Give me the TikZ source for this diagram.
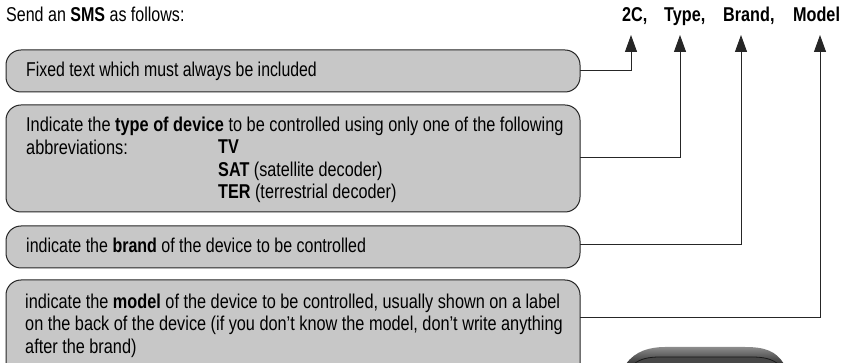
\documentclass[tikz,border=0pt]{standalone}
\usepackage{fontspec}
\usetikzlibrary{arrows.meta}
\setmainfont[FakeStretch=0.81]{Liberation Sans}
\definecolor{boxgray}{gray}{0.78}
\definecolor{linegray}{gray}{0.15}
\tikzset{
  infobox/.style={draw=linegray,fill=boxgray,line width=1pt,rounded corners=15pt},
  boxtext/.style={anchor=base west,inner sep=0pt,font=\fontsize{20}{22.5}\selectfont,align=left},
  token/.style={anchor=base west,inner sep=0pt,font=\fontsize{20}{22}\selectfont\bfseries},
  leader/.style={draw=linegray,line width=1pt,-{Triangle[length=17pt,width=12pt]}},
}
\begin{document}
\begin{tikzpicture}[x=1pt,y=-1pt]
\useasboundingbox (0,0) rectangle (849,363);
\clip (0,0) rectangle (849,363);
\node[boxtext,xscale=0.99] (title) at (6,22) {Send an \textbf{SMS} as follows:};
\node[token] (t1) at (622,22) {2C,};
\node[token] (t2) at (664,22) {Type,};
\node[token] (t3) at (723,22) {Brand,};
\node[token] (t4) at (793,22) {Model};
\coordinate (a1) at (631,35);
\coordinate (a2) at (680,35);
\coordinate (a3) at (741,35);
\coordinate (a4) at (820,35);
\path[infobox] (6,50) rectangle (580,92);
\coordinate (b1) at (580,71);
\path[infobox] (6,105) rectangle (580,212);
\coordinate (b2) at (580,158);
\path[infobox] (6,226) rectangle (580,268);
\coordinate (b3) at (580,245);
\path[infobox] (6,280) rectangle (580,380);
\coordinate (b4) at (580,318);
\node[boxtext,xscale=0.978] (x1) at (26,77) {Fixed text which must always be included};
\node[boxtext,xscale=1.008] (x2) at (26,154.5) {Indicate the \textbf{type of device} to be controlled using only one of the following\\abbreviations:};
\node[boxtext] (x2b) at (218,199) {\textbf{TV}\\\textbf{SAT} (satellite decoder)\\\textbf{TER} (terrestrial decoder)};
\node[boxtext,xscale=0.988] (x3) at (26,253) {indicate the \textbf{brand} of the device to be controlled};
\node[boxtext,xscale=1.005] (x4) at (25,353) {indicate the \textbf{model} of the device to be controlled, usually shown on a label\\on the back of the device (if you don't know the model, don't write anything\\after the brand)};
\draw[leader] (b1) -| (a1);
\draw[leader] (b2) -| (a2);
\draw[leader] (b3) -| (a3);
\draw[leader] (b4) -| (a4);
% top edge of the device
\path[top color=black!45,bottom color=black!80] (626,364) .. controls (635,351) and (650,347) .. (665,347) -- (745,347) .. controls (765,347) and (776,351) .. (784,364) -- cycle;
\path[fill=black!72,draw=black!90,line width=0.8pt] (634,364) .. controls (640,359) and (648,357) .. (660,357) -- (752,357) .. controls (764,357) and (772,359) .. (778,364) -- cycle;
\end{tikzpicture}
\end{document}
